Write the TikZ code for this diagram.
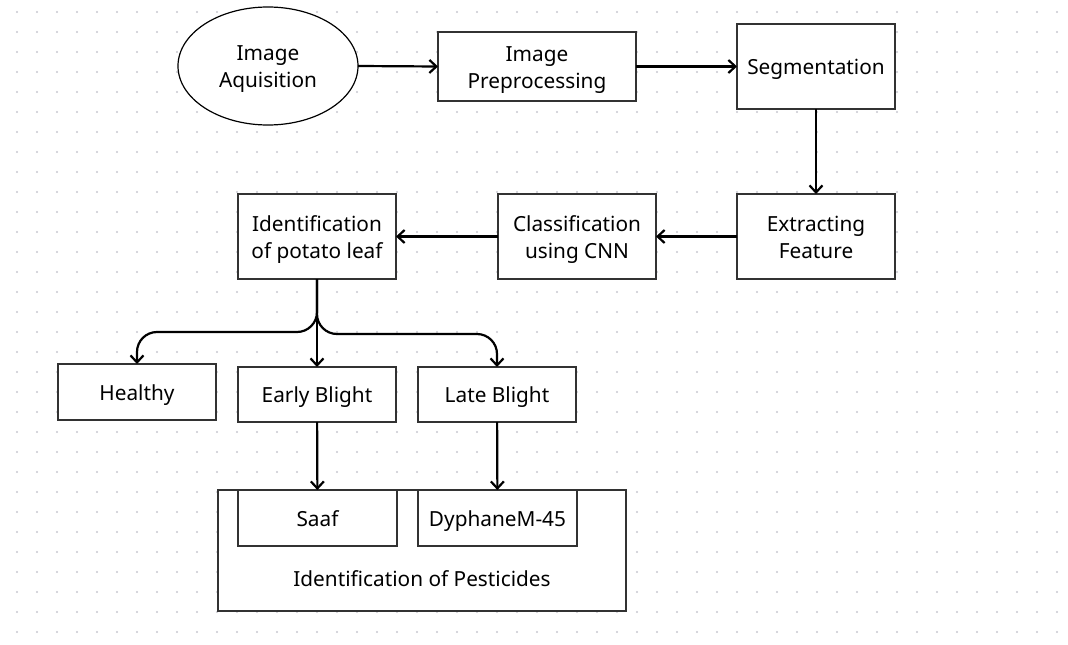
\documentclass[tikz,border=0pt]{standalone}
\usepackage{fontspec}
\setmainfont{Noto Sans}
\usepackage{xcolor}
\definecolor{griddot}{RGB}{200,200,208}
\definecolor{boxline}{RGB}{50,50,50}
\usepackage{tikz}
\usetikzlibrary{positioning}
\usetikzlibrary{arrows.meta,shapes}
\newcommand\twolines[2]{\rule{0pt}{21.5pt}#1\\#2\rule[-5.5pt]{0pt}{5.5pt}}

\begin{document}
\begin{tikzpicture}[x=1pt,y=-1pt,node distance=85pt,
	every node/.style={inner sep=0,outer sep=0,font=\fontsize{20.8}{27}\selectfont},
	oneline/.style={execute at begin node={\rule{0pt}{21.5pt}},execute at end node={\rule[-5.5pt]{0pt}{5.5pt}}},
	stage/.style={draw=boxline,line width=1.2pt,fill=white,align=center,minimum width=158pt,minimum height=85pt},
	leaf/.style={stage,oneline,minimum height=55pt},
	flow/.style={line width=2.2pt,-{Straight Barb[length=7pt,width=13pt]}}]
	\fill[white] (0,0) rectangle (1068,645);
	\useasboundingbox (0,0) rectangle (1068,645);
	% dotted canvas
	\foreach \i in {0,...,52}
		\foreach \j in {0,...,31}
			\fill[griddot] (17+20*\i,12+20*\j) circle (1.1);
	% pipeline
	\node (acq) [ellipse,draw=black,line width=1.2pt,fill=white,align=center,minimum width=180pt,minimum height=118pt] at (268,66) {\twolines{Image}{Aquisition}};
	\node (pre) [stage,minimum width=198pt,minimum height=69pt] at (537,66.5) {\twolines{Image}{Preprocessing}};
	\node (seg) [stage,oneline] at (816,66.5) {Segmentation};
	\node (feat) [stage,below=of seg] {\twolines{Extracting}{Feature}};
	\node (cls) [stage,left=81pt of feat] {\twolines{Classification}{using CNN}};
	\node (ident) [stage,left=102pt of cls] {\twolines{Identification}{of potato leaf}};
	% results
	\node (healthy) [leaf,minimum height=56pt] at (137,392) {Healthy};
	\node (early) [leaf] at (317,394.5) {Early Blight};
	\node (late) [leaf] at (497,394.5) {Late Blight};
	% pesticides
	\node (pest) [draw=boxline,line width=1.2pt,fill=white,minimum width=408pt,minimum height=121pt] at (422,550.5) {};
	\node (pestlabel) [oneline] at (422,578) {Identification of Pesticides};
	\node (saaf) [leaf,minimum width=159pt,minimum height=56pt] at (317.5,518) {Saaf};
	\node (dyph) [leaf,minimum width=159pt,minimum height=56pt] at (497.5,518) {DyphaneM-45};
	\coordinate (lsplit) at (317,332);
	\coordinate (rsplit) at (317,334);
	\draw[flow] (acq.east) -- (pre.west);
	\draw[flow] (pre.east) -- (seg.west |- pre.east);
	\draw[flow] (seg) -- (feat);
	\draw[flow] (feat) -- (cls);
	\draw[flow] (cls) -- (ident);
	\draw[flow] (ident) -- (early);
	\draw[flow,rounded corners=20pt] (ident.south) -- (lsplit) -| (healthy.north);
	\draw[flow,rounded corners=20pt] (ident.south) -- (rsplit) -| (late.north);
	\draw[flow] (early) -- (saaf);
	\draw[flow] (late) -- (dyph);
\end{tikzpicture}
\end{document}
